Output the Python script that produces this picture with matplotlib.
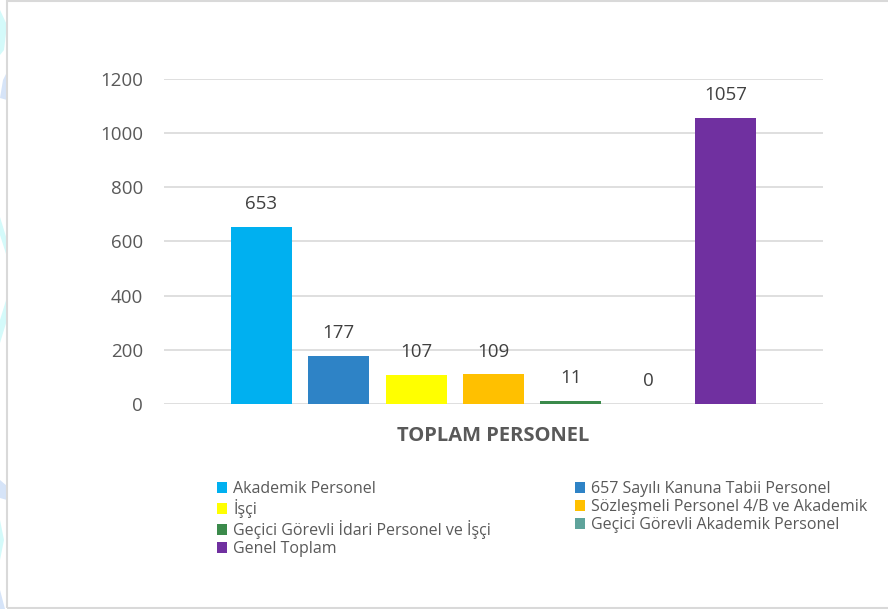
import numpy as np
import matplotlib
matplotlib.use("Agg")
import matplotlib.pyplot as plt
from matplotlib.patches import Rectangle, Polygon

#%% data

labels = ["Akademik Personel", "657 Sayılı Kanuna Tabii Personel", "İşçi",
          "Sözleşmeli Personel 4/B ve Akademik", "Geçici Görevli İdari Personel ve İşçi",
          "Geçici Görevli Akademik Personel", "Genel Toplam"]
values = [653, 177, 107, 109, 11, 0, 1057]
colors = ["#00B0F0", "#2E83C6", "#FFFF00", "#FFC000", "#3B8A4B", "#5FA39B", "#7030A0"]
yticks = [0, 200, 400, 600, 800, 1000, 1200]
xlabel = "TOPLAM PERSONEL"

plt.rcParams['font.family'] = ['Open Sans', 'DejaVu Sans']

#%% plot

fig = plt.figure(figsize=(8.88, 6.09), dpi=100)
ax = fig.add_axes([0.1847, 0.3366, 0.7421, 0.5337])

x = np.arange(len(values))
handles = []
for i in range(len(values)):
    b = ax.bar(x[i], values[i], width=0.79, color=colors[i], label=labels[i], zorder=3)
    handles.append(b)
    ax.annotate(str(values[i]), (x[i], values[i]), xytext=(0, 10), textcoords="offset points",
                ha="center", va="bottom", fontsize=13.5, color="#404040")

ax.set_ylim(0, 1200)
ax.set_xlim(-1.26, 7.26)
ax.set_yticks(yticks)
ax.set_xticks([])
ax.grid(axis="y", color="#D9D9D9", linewidth=1.2, zorder=0)
for s in ax.spines.values():
    s.set_visible(False)
ax.tick_params(axis="y", length=0, pad=15, labelsize=13.5, labelcolor="#595959")
ax.set_xlabel(xlabel, fontsize=14.5, fontweight="bold", color="#595959", labelpad=16)

# legend: two blocks, row-major like the picture
legkw = dict(loc="upper left", frameon=False, fontsize=11.5, handlelength=0.62,
             handleheight=0.62, handletextpad=0.4, labelspacing=0.13,
             borderaxespad=0, borderpad=0)
left = [0, 2, 4, 6]
right = [1, 3, 5]
leg1 = fig.legend([handles[i] for i in left], [labels[i] for i in left],
                  bbox_to_anchor=(217 / 888, 1 - 481 / 609), **legkw)
leg2 = fig.legend([handles[i] for i in right], [labels[i] for i in right],
                  bbox_to_anchor=(575 / 888, 1 - 481 / 609), **legkw)
for leg in (leg1, leg2):
    for t in leg.get_texts():
        t.set_color("#595959")

# faint page decorations on the left edge
def px(xp, yp):
    return (xp / 888, 1 - yp / 609)

for pts, c in [([(0, 10), (7, 25), (4, 50), (0, 55)], "#D4FAFA"),
               ([(7, 72), (7, 100), (0, 98), (3, 80)], "#D6E4F8"),
               ([(0, 217), (7, 240), (7, 257), (0, 235)], "#D4FAFA"),
               ([(7, 297), (7, 320), (0, 343), (0, 320)], "#D4FAFA"),
               ([(0, 480), (7, 486), (7, 500), (0, 498)], "#D6E4F8"),
               ([(0, 520), (4, 540), (0, 560)], "#D4FAFA"),
               ([(0, 590), (5, 609), (0, 609)], "#D6E4F8")]:
    fig.add_artist(Polygon([px(a, b) for a, b in pts], closed=True, transform=fig.transFigure,
                           facecolor=c, edgecolor="none"))

# light frame round the chart
fig.add_artist(Rectangle((7 / 888, 1 / 609), 1.0, 1 - 2 / 609, transform=fig.transFigure,
                         fill=False, edgecolor="#D9D9D9", linewidth=1.5))

fig.savefig("out.png", dpi=100)
